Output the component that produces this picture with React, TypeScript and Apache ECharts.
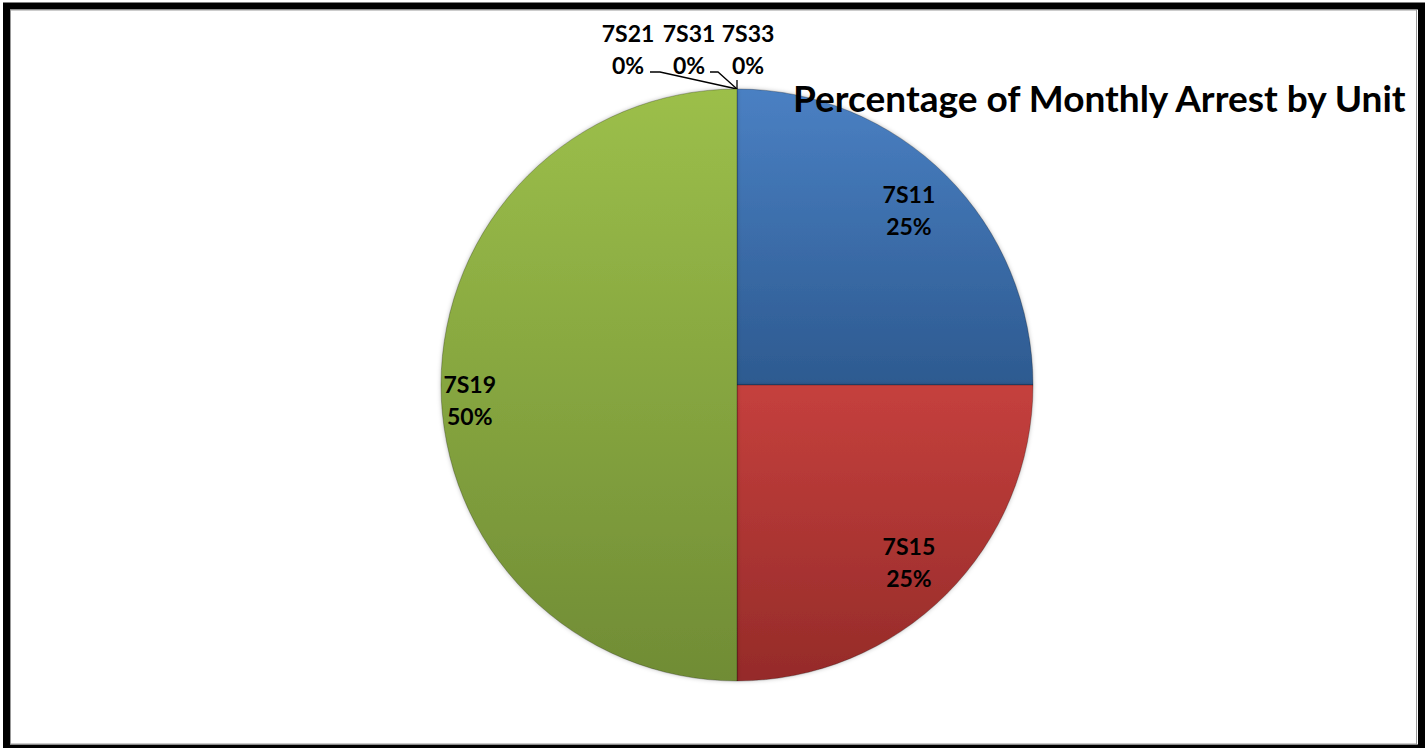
import React, { useEffect, useRef } from "react";
import * as echarts from "echarts";

const categories = ["7S11", "7S15", "7S19", "7S21", "7S31", "7S33"];
const values = [25, 25, 50, 0, 0, 0];
const titleText = "Percentage of Monthly Arrest by Unit";

const topColors = ["#4A80C3", "#C5403D", "#9CBF4A"];
const bottomColors = ["#2D5A90", "#952B29", "#708C35"];

const CX = 737;
const CY = 385;
const R = 296;
const FONT = "Lato, 'Open Sans', sans-serif";

export default function App() {
  const ref = useRef<HTMLDivElement>(null);
  useEffect(() => {
    if (!ref.current) return;
    const chart = echarts.init(ref.current, undefined, { renderer: "svg" });
    const top = CY - R;
    const insideFactor = [1.61, 1.61, 1.77];
    const insideDy = [-3, 5, 15];
    const zeroLayout: Record<number, any> = {
      3: { x: CX - 109, y: top - 40, line: [[CX, top], [CX - 77, top - 17], [CX - 87, top - 17]] },
      4: { x: CX - 48, y: top - 40, line: [[CX, top], [CX - 19, top - 17], [CX - 27, top - 17]] },
      5: { x: CX + 11, y: top - 40, line: [[CX, top], [CX, top - 9], [CX, top - 9]] },
    };
    const data = categories.map((name, i) => {
      const isZero = values[i] === 0;
      return {
        name,
        value: values[i],
        itemStyle:
          i < 3
            ? {
                color: new echarts.graphic.LinearGradient(0, 0, 0, 1, [
                  { offset: 0, color: topColors[i] },
                  { offset: 1, color: bottomColors[i] },
                ]),
              }
            : { color: "#777" },
        label: isZero
          ? { position: "outside" as const }
          : { position: "inside" as const },
        labelLine: { show: isZero, lineStyle: { color: "#000", width: 1.3 } },
      };
    });
    chart.setOption({
      animation: false,
      backgroundColor: "#fff",
      graphic: [
        {
          type: "rect",
          shape: { x: 6.5, y: 6, width: 1415, height: 742 },
          style: { fill: "none", stroke: "#000", lineWidth: 7 },
          silent: true,
        },
        {
          type: "rect",
          shape: { x: 10.5, y: 10, width: 1406, height: 734 },
          style: { fill: "none", stroke: "#999", lineWidth: 1 },
          silent: true,
        },
        {
          type: "text",
          x: 793,
          y: 97,
          style: {
            text: titleText,
            fill: "#000",
            font: `bold 37px ${FONT}`,
            textAlign: "left",
            textVerticalAlign: "middle",
          },
          z: 10,
        },
      ],
      series: [
        {
          type: "pie",
          center: [CX, CY],
          radius: [0, R],
          startAngle: 90,
          clockwise: true,
          avoidLabelOverlap: false,
          stillShowZeroSum: true,
          minShowLabelAngle: 0,
          itemStyle: {
            borderColor: "rgba(0,0,0,0.25)",
            borderWidth: 1,
            shadowBlur: 4,
            shadowColor: "rgba(0,0,0,0.25)",
          },
          label: {
            show: true,
            formatter: (p: any) => `${p.name}\n${Math.round(p.percent)}%`,
            color: "#000",
            fontFamily: FONT,
            fontWeight: "bold",
            fontSize: 23,
            lineHeight: 32,
            align: "center",
          },
          labelLayout: (p: any) => {
            const idx = p.dataIndex;
            if (zeroLayout[idx]) {
              const z = zeroLayout[idx];
              return {
                x: z.x,
                y: z.y,
                align: "center",
                verticalAlign: "middle",
                labelLinePoints: z.line,
              };
            }
            const r = p.labelRect;
            const lx = r.x + r.width / 2;
            const ly = r.y + r.height / 2;
            const k = insideFactor[idx] - 1;
            return { dx: (lx - CX) * k, dy: (ly - CY) * k + insideDy[idx] };
          },
          emphasis: { disabled: true },
          data,
        },
      ],
    });
    return () => chart.dispose();
  }, []);
  return (
    <div
      ref={ref}
      style={{ position: "fixed", left: 0, top: 0, width: 1426, height: 748 }}
    />
  );
}
